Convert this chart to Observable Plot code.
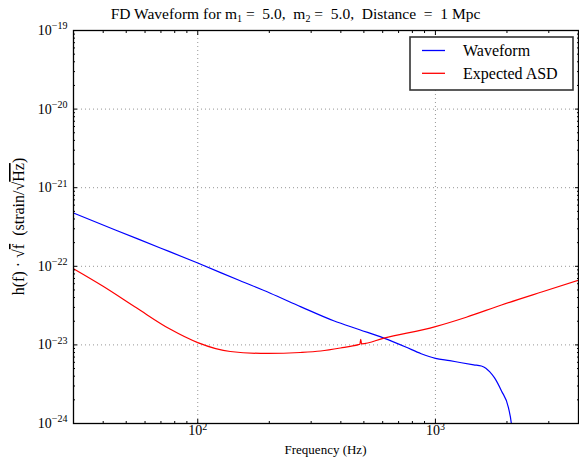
<!DOCTYPE html>
<html><head><meta charset="utf-8">
<script src="https://cdn.jsdelivr.net/npm/d3@7"></script>
<script src="https://cdn.jsdelivr.net/npm/@observablehq/plot@0.6"></script>
<style>
body{margin:0;background:#fff;}
#wrap{position:relative;width:579px;height:458px;}
</style></head><body><div id="wrap"></div>
<script>
// ---- data ----
const seriesNames = ["Waveform", "Expected ASD"];
const seriesColors = ["#0000ff", "#ff0000"];
const waveformFreq = [30, 45, 70, 100, 150, 202, 272, 373, 480, 607, 750, 871, 1000, 1150, 1286, 1450, 1561, 1630, 1690, 1771, 1897, 2029, 2090, 2120];
const waveformAmp  = [4.76e-22, 2.90e-22, 1.70e-22, 1.10e-22, 6.59e-23, 4.55e-23, 3.05e-23, 2.03e-23, 1.56e-23, 1.22e-23, 9.4e-24, 7.73e-24, 6.75e-24, 6.30e-24, 5.93e-24, 5.58e-24, 5.39e-24, 5.06e-24, 4.57e-24, 3.83e-24, 2.59e-24, 1.59e-24, 9.6e-25, 6e-25];
const asdFreq = [30, 39.8, 55.4, 76.4, 100, 137, 196, 270, 329, 399, 475, 481, 485, 489, 607, 1000, 1349, 1897, 2799, 4000];
const asdAmp  = [9.31e-23, 5.61e-23, 2.94e-23, 1.59e-23, 1.07e-23, 8.24e-24, 7.78e-24, 8.0e-24, 8.36e-24, 9.14e-24, 1.01e-23, 1.02e-23, 1.18e-23, 1.03e-23, 1.22e-23, 1.71e-23, 2.25e-23, 3.22e-23, 4.71e-23, 6.64e-23];
const xMajor = [100, 1000];
const xMinor = [40, 50, 60, 70, 80, 90, 200, 300, 400, 500, 600, 700, 800, 900, 2000, 3000, 4000];
const yMajor = [1e-24, 1e-23, 1e-22, 1e-21, 1e-20, 1e-19];
const yMinor = [];
for (const m of [1e-24, 1e-23, 1e-22, 1e-21, 1e-20]) for (const k of [2,3,4,5,6,7,8,9]) yMinor.push(m*k);
const titleText = "FD Waveform for m";
const xLabel = "Frequency (Hz)";

const waveform = waveformFreq.map((f, i) => ({f, h: waveformAmp[i]}));
const asd = asdFreq.map((f, i) => ({f, h: asdAmp[i]}));
const fmt = d => `10^${Math.round(Math.log10(d))}`;
const none = () => "";
const font = "'Liberation Serif', 'DejaVu Serif', serif";
const gridStyle = {stroke: "#000", strokeOpacity: 0.7, strokeWidth: 0.6, strokeDasharray: "1,3"};

const plot = Plot.plot({
  width: 579, height: 458,
  marginLeft: 73, marginRight: 1, marginTop: 30, marginBottom: 35,
  style: {fontFamily: font, fontSize: "14px", background: "white", color: "black"},
  x: {type: "log", domain: [30, 4000]},
  y: {type: "log", domain: [1e-24, 1e-19]},
  marks: [
    Plot.gridX(xMajor, gridStyle),
    Plot.gridY(yMajor, gridStyle),
    Plot.line(waveform, {x: "f", y: "h", stroke: seriesColors[0], strokeWidth: 1.2, curve: "monotone-x", clip: true}),
    Plot.line(asd, {x: "f", y: "h", stroke: seriesColors[1], strokeWidth: 1.2, curve: "monotone-x", clip: true}),
    Plot.frame({stroke: "black", strokeWidth: 1.3}),
    Plot.axisX(xMajor, {anchor: "bottom", tickSize: -4, tickFormat: none, label: null}),
    Plot.axisX(xMinor, {anchor: "bottom", tickSize: -2, tickFormat: none, label: null}),
    Plot.axisX(xMajor, {anchor: "top", tickSize: -4, tickFormat: none, label: null}),
    Plot.axisX(xMinor, {anchor: "top", tickSize: -2, tickFormat: none, label: null}),
    Plot.axisY(yMajor, {anchor: "left", tickSize: -4, tickFormat: none, label: null}),
    Plot.axisY(yMinor, {anchor: "left", tickSize: -2, tickFormat: none, label: null}),
    Plot.axisY(yMajor, {anchor: "right", tickSize: -4, tickFormat: none, label: null}),
    Plot.axisY(yMinor, {anchor: "right", tickSize: -2, tickFormat: none, label: null}),
    Plot.axisX(xMajor, {anchor: "bottom", tickSize: 0, tickPadding: 2, tickFormat: fmt, label: null, fontSize: 14}),
    Plot.axisY(yMajor, {anchor: "left", tickSize: 0, tickPadding: 6, tickFormat: fmt, label: null, fontSize: 14})
  ]
});
document.getElementById("wrap").appendChild(plot);

// superscript exponents
plot.querySelectorAll("text").forEach(t => {
  const s = t.textContent;
  if (/^10\^/.test(s)) {
    const e = s.split("^")[1].replace("-", "\u2212");
    t.textContent = "10";
    const sp = document.createElementNS("http://www.w3.org/2000/svg", "tspan");
    sp.setAttribute("dy", "-0.55em");
    sp.setAttribute("font-size", "10");
    sp.textContent = e;
    t.appendChild(sp);
  }
});

const svg = d3.select(plot);
const xs = plot.scale("x"), ys = plot.scale("y");
const cx = (xs.range[0] + xs.range[1]) / 2;
const cy = (ys.range[0] + ys.range[1]) / 2;

// title
const title = svg.append("text").attr("x", cx - 30).attr("y", 19).attr("text-anchor", "middle")
  .attr("font-family", font).attr("font-size", 15.5).style("white-space", "pre");
title.append("tspan").text(titleText);
title.append("tspan").attr("font-size", 10).attr("dy", 3).text("1");
title.append("tspan").attr("dy", -3).text(" =  5.0,  m");
title.append("tspan").attr("font-size", 10).attr("dy", 3).text("2");
title.append("tspan").attr("dy", -3).text(" =  5.0,  Distance  =  1 Mpc");

// x label
svg.append("text").attr("x", cx).attr("y", 454).attr("text-anchor", "middle")
  .attr("font-family", font).attr("font-size", 13).text(xLabel);

// y label
const yl = svg.append("text").attr("transform", `translate(24,${cy}) rotate(-90)`).attr("text-anchor", "middle")
  .attr("font-family", font).attr("font-size", 16).style("white-space", "pre");
yl.append("tspan").text("h(f) \u00b7 \u221a");
yl.append("tspan").style("text-decoration", "overline").text("f");
yl.append("tspan").text("  (strain/\u221a");
yl.append("tspan").style("text-decoration", "overline").text("Hz");
yl.append("tspan").text(")");

// legend
const lg = svg.append("g");
lg.append("rect").attr("x", 410).attr("y", 37).attr("width", 163).attr("height", 53)
  .attr("fill", "white").attr("stroke", "#333").attr("stroke-width", 1.6);
seriesNames.forEach((name, i) => {
  const y = 50.5 + i * 22.8;
  lg.append("line").attr("x1", 422).attr("x2", 445).attr("y1", y).attr("y2", y)
    .attr("stroke", seriesColors[i]).attr("stroke-width", 1.3);
  lg.append("text").attr("x", 463).attr("y", y).attr("dy", "0.35em").attr("text-anchor", "start")
    .attr("font-family", font).attr("font-size", 16).text(name);
});
</script></body></html>
